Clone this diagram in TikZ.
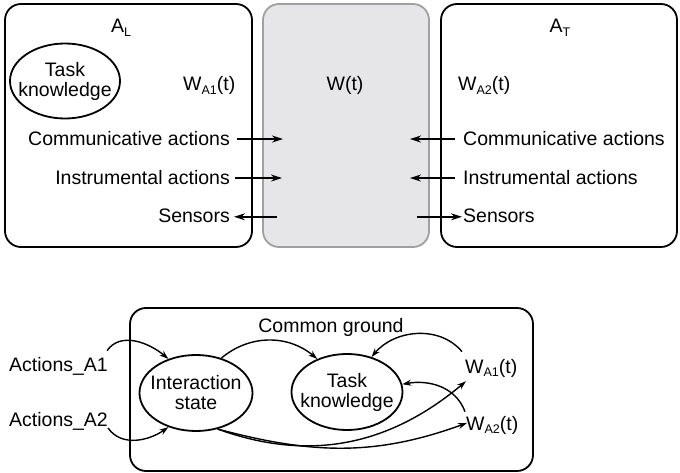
\documentclass[tikz,border=0pt]{standalone}
\usepackage{fontspec}
\setmainfont{Liberation Sans}
\usepackage{tikz}
\usetikzlibrary{arrows.meta,shapes.geometric}
\definecolor{worldfill}{RGB}{230,230,232}
\definecolor{worldline}{RGB}{160,160,160}
\newcommand{\lowsub}[1]{\raisebox{-3.5pt}{\fontsize{12.5}{13}\selectfont #1}}

\begin{document}
\begin{tikzpicture}[x=1pt,y=-1pt,
  font=\fontsize{19.5}{20}\selectfont,
  agent/.style={rectangle,draw=black,line width=1.8pt,rounded corners=16pt,inner sep=0pt},
  world/.style={rectangle,draw=worldline,fill=worldfill,line width=1.8pt,rounded corners=16pt,inner sep=0pt},
  blob/.style={ellipse,draw=black,line width=1.8pt,align=center,inner xsep=-10pt,inner ysep=-4pt},
  txt/.style={inner sep=0pt},
  arrow/.style={-{Stealth[length=11pt,width=7pt]},line width=1.5pt},
  curvearrow/.style={-{Stealth[length=9pt,width=6pt]},line width=1.4pt}
]
\useasboundingbox (0,0) rectangle (680,473);
% top: two agents and the world
\node[agent,minimum width=247pt,minimum height=243pt] (AL) at (128.5,125.5) {};
\node[world,minimum width=166pt,minimum height=243pt] (W) at (346,125.5) {};
\node[agent,minimum width=236pt,minimum height=243pt] (AT) at (559,125.5) {};
\node[txt,anchor=base] (ALname) at (121,33) {A\lowsub{L}};
\node[txt,anchor=base] (ATname) at (560,33) {A\lowsub{T}};
\node[blob,minimum width=110pt,minimum height=75pt] (taskL) at (65,81) {Task\\knowledge};
\node[txt,anchor=base west] (wa1) at (183,91) {W\lowsub{A1}(t)};
\node[txt,anchor=base] (wt) at (345,91) {W(t)};
\node[txt,anchor=base west] (wa2) at (458,91) {W\lowsub{A2}(t)};

\node[txt,anchor=base east] (comL) at (230,146) {Communicative actions};
\node[txt,anchor=base east] (instL) at (230,185) {Instrumental actions};
\node[txt,anchor=base east] (senL) at (230,223) {Sensors};
\node[txt,anchor=base west] (comR) at (463,146) {Communicative actions};
\node[txt,anchor=base west] (instR) at (463,185) {Instrumental actions};
\node[txt,anchor=base west] (senR) at (463,223) {Sensors};

\coordinate (comLend) at ([xshift=53pt]comL.east);
\coordinate (instLend) at ([xshift=52pt]instL.east);
\coordinate (senLstart) at ([xshift=47pt,yshift=-0.5pt]senL.east);
\coordinate (comRend) at ([xshift=-53pt]comR.west);
\coordinate (instRend) at ([xshift=-53pt]instR.west);
\coordinate (senRstart) at ([xshift=-46pt,yshift=-0.5pt]senR.west);

\draw[arrow] ([xshift=7pt]comL.east) -- (comLend);
\draw[arrow] ([xshift=5pt]instL.east) -- (instLend);
\draw[arrow] (senLstart) -- ([xshift=4pt,yshift=-0.5pt]senL.east);
\draw[arrow] ([xshift=-8pt]comR.west) -- (comRend);
\draw[arrow] ([xshift=-8pt]instR.west) -- (instRend);
\draw[arrow] (senRstart) -- ([xshift=-1pt,yshift=-0.5pt]senR.west);

% bottom: common ground
\node[agent,minimum width=403pt,minimum height=163pt] (CG) at (331.5,389.5) {};
\node[txt,anchor=base] (CGname) at (331,332) {Common ground};
\node[blob,inner xsep=-6pt,minimum width=113pt,minimum height=76pt] (inter) at (196,393) {Interaction\\state};
\node[blob,minimum width=111pt,minimum height=76pt] (taskC) at (347,392) {Task\\knowledge};
\node[txt,anchor=base west] (act1) at (9,371) {Actions\_A1};
\node[txt,anchor=base west] (act2) at (9,426) {Actions\_A2};
\node[txt,anchor=base west] (wa1C) at (465,373) {W\lowsub{A1}(t)};
\node[txt,anchor=base west] (wa2C) at (466,430) {W\lowsub{A2}(t)};

\draw[curvearrow] ([xshift=-1pt,yshift=6pt]act1.north east) to[out=55,in=140] (inter.129);
\draw[curvearrow] ([yshift=-2pt]act2.base east) to[out=-55,in=-145] (inter.231);
\draw[curvearrow] (inter.54) to[out=40,in=140] (taskC.132);
\draw[curvearrow] ([shift={(-3pt,7pt)}]wa1C.north west) to[out=130,in=50] (taskC.55);
\draw[curvearrow] ([shift={(-1pt,4pt)}]wa2C.north west) to[out=110,in=10] (taskC.8);
\draw[curvearrow] (inter.301) to[out=-20,in=-140] ([shift={(1pt,-4pt)}]wa1C.south west);
\draw[curvearrow] (inter.301) to[out=-15,in=-160] ([shift={(1pt,2pt)}]wa2C.west);
\end{tikzpicture}
\end{document}
